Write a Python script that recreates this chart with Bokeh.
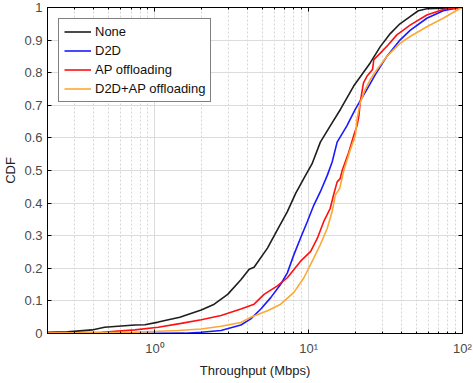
from bokeh.plotting import figure
from bokeh.models import FixedTicker, LinearAxis, LogAxis, Range1d, Legend, LegendItem
from bokeh.embed import file_html
from bokeh.resources import INLINE

# ---- data ----
none_x = [0.2, 0.27, 0.39, 0.47, 0.74, 0.86, 1.05, 1.45, 2.0, 2.43, 2.97, 3.62, 4.1, 4.41, 5.39,
          6.25, 7.26, 8.22, 9.53, 10.5, 11.9, 13.8, 16.1, 19.6, 25.1, 29.2, 33.9, 39.2, 45.6,
          51.6, 58.6, 75.0, 100.0]
none_y = [0.004, 0.005, 0.011, 0.019, 0.026, 0.027, 0.035, 0.05, 0.072, 0.09, 0.12, 0.165, 0.197,
          0.203, 0.262, 0.318, 0.374, 0.43, 0.485, 0.52, 0.587, 0.637, 0.688, 0.759, 0.83, 0.88,
          0.92, 0.95, 0.972, 0.99, 0.996, 0.998, 1.0]

d2d_x = [0.76, 1.56, 2.0, 2.69, 3.62, 4.2, 4.88, 5.66, 6.57, 7.26, 8.01, 8.85, 9.78, 10.8, 11.9,
         13.2, 14.2, 15.3, 17.7, 20.1, 23.9, 27.1, 32.2, 39.2, 45.6, 58.6, 74.9, 91.0, 100.0]
d2d_y = [0.0, 0.001, 0.004, 0.009, 0.026, 0.045, 0.075, 0.11, 0.151, 0.186, 0.242, 0.293, 0.343,
         0.394, 0.435, 0.485, 0.526, 0.587, 0.637, 0.688, 0.749, 0.794, 0.85, 0.9, 0.93, 0.967,
         0.99, 0.998, 1.0]

ap_x = [0.2, 0.45, 0.74, 1.05, 1.48, 2.0, 2.69, 3.62, 4.41, 5.12, 6.25, 7.26, 8.85, 10.3, 11.4,
        12.5, 13.8, 14.5, 15.3, 16.0, 16.5, 18.2, 19.6, 20.6, 21.2, 21.6, 22.7, 23.9, 26.0, 26.5,
        29.2, 32.8, 37.4, 45.6, 58.6, 74.9, 100.0]
ap_y = [0.001, 0.004, 0.011, 0.019, 0.031, 0.042, 0.055, 0.075, 0.09, 0.12, 0.146, 0.171, 0.222,
        0.252, 0.293, 0.343, 0.384, 0.425, 0.465, 0.475, 0.5, 0.556, 0.607, 0.637, 0.668, 0.708,
        0.769, 0.789, 0.81, 0.84, 0.86, 0.885, 0.916, 0.946, 0.977, 0.994, 1.0]

both_x = [0.2, 0.74, 1.41, 2.0, 2.69, 3.62, 4.2, 5.39, 6.57, 8.01, 9.3, 10.8, 11.9, 13.2, 14.2,
          14.9, 15.9, 16.9, 18.7, 20.1, 20.6, 21.6, 23.3, 25.1, 27.8, 32.2, 39.2, 45.6, 58.6,
          74.9, 96.0, 100.0]
both_y = [0.001, 0.004, 0.009, 0.014, 0.022, 0.034, 0.05, 0.07, 0.09, 0.126, 0.171, 0.232, 0.273,
          0.323, 0.374, 0.425, 0.445, 0.5, 0.566, 0.607, 0.657, 0.708, 0.749, 0.779, 0.81, 0.85,
          0.89, 0.911, 0.941, 0.967, 0.997, 1.0]

series_names = ["None", "D2D", "AP offloading", "D2D+AP offloading"]
x_major = [1, 10, 100]
x_labels = {1: "10\u2070", 10: "10\u00b9", 100: "10\u00b2"}
x_minor = [m * d for d in (0.1, 1, 10) for m in range(2, 10)]
y_major = [i / 10 for i in range(11)]
y_labels = {v: ("0" if v == 0 else "1" if v == 1 else f"{v:.1f}") for v in y_major}

FONT = "Liberation Sans"

p = figure(width=473, height=383, x_axis_type="log", output_backend="svg",
           toolbar_location=None, x_range=Range1d(0.2, 100), y_range=Range1d(0, 1),
           min_border_left=46, min_border_right=11, min_border_top=7, min_border_bottom=50)
p.outline_line_color = "black"
p.background_fill_color = "white"
p.border_fill_color = "white"

xt = FixedTicker(ticks=x_major, minor_ticks=x_minor)
yt = FixedTicker(ticks=y_major, minor_ticks=[])

colors = ["#1e1e1e", "#1a1aff", "#ff1010", "#ffa733"]
renderers = []
for xs, ys, c in zip([none_x, d2d_x, ap_x, both_x], [none_y, d2d_y, ap_y, both_y], colors):
    r = p.line(xs, ys, line_color=c, line_width=1.6)
    renderers.append(r)

# axes
for ax in p.xaxis:
    ax.ticker = xt
    ax.major_label_overrides = x_labels
    ax.axis_label = "Throughput (Mbps)"
for ax in p.yaxis:
    ax.ticker = yt
    ax.major_label_overrides = y_labels
    ax.axis_label = "CDF"
    ax.axis_label_standoff = 3

for ax in list(p.xaxis) + list(p.yaxis):
    ax.major_tick_in = 4
    ax.major_tick_out = 0
    ax.minor_tick_in = 2
    ax.minor_tick_out = 0
    ax.axis_line_color = "black"
    ax.major_tick_line_color = "black"
    ax.minor_tick_line_color = "black"
    ax.major_label_text_font = FONT
    ax.major_label_text_font_size = "13px"
    ax.major_label_text_color = "#4a4a4a"
    ax.axis_label_text_font = FONT
    ax.axis_label_text_font_size = "13px"
    ax.axis_label_text_font_style = "normal"
    ax.axis_label_text_color = "#222222"
p.xaxis.major_label_standoff = 7
p.xaxis.axis_label_standoff = 4
p.yaxis.major_label_standoff = 5

top = LogAxis(ticker=xt, major_label_text_font_size="1px", major_label_text_alpha=0,
              major_label_standoff=0,
              major_tick_in=4, major_tick_out=0, minor_tick_in=2, minor_tick_out=0,
              axis_line_color="black", major_tick_line_color="black", minor_tick_line_color="black")
right = LinearAxis(ticker=yt, major_label_text_font_size="1px", major_label_text_alpha=0,
                   major_label_standoff=0,
                   major_tick_in=4, major_tick_out=0, minor_tick_in=0, minor_tick_out=0,
                   axis_line_color="black", major_tick_line_color="black")
p.add_layout(top, "above")
p.add_layout(right, "right")

# grids
p.xgrid.ticker = xt
p.ygrid.ticker = yt
p.xgrid.grid_line_color = "#dcdcdc"
p.ygrid.grid_line_color = "#dcdcdc"
p.xgrid.grid_line_width = 1
p.ygrid.grid_line_width = 1
p.xgrid.minor_grid_line_color = "#d4d4d4"
p.xgrid.minor_grid_line_dash = "2 2"
p.xgrid.minor_grid_line_width = 1

legend = Legend(items=[LegendItem(label=n, renderers=[r]) for n, r in zip(series_names, renderers)],
                location="top_left", margin=11, padding=5, spacing=4,
                label_text_font=FONT, label_text_font_size="13px", label_text_color="#111111",
                label_height=13, glyph_height=13, glyph_width=27, label_standoff=4,
                border_line_color="black", border_line_width=1, background_fill_alpha=1.0)
p.add_layout(legend)

open("out.html", "w").write(file_html(p, INLINE))
